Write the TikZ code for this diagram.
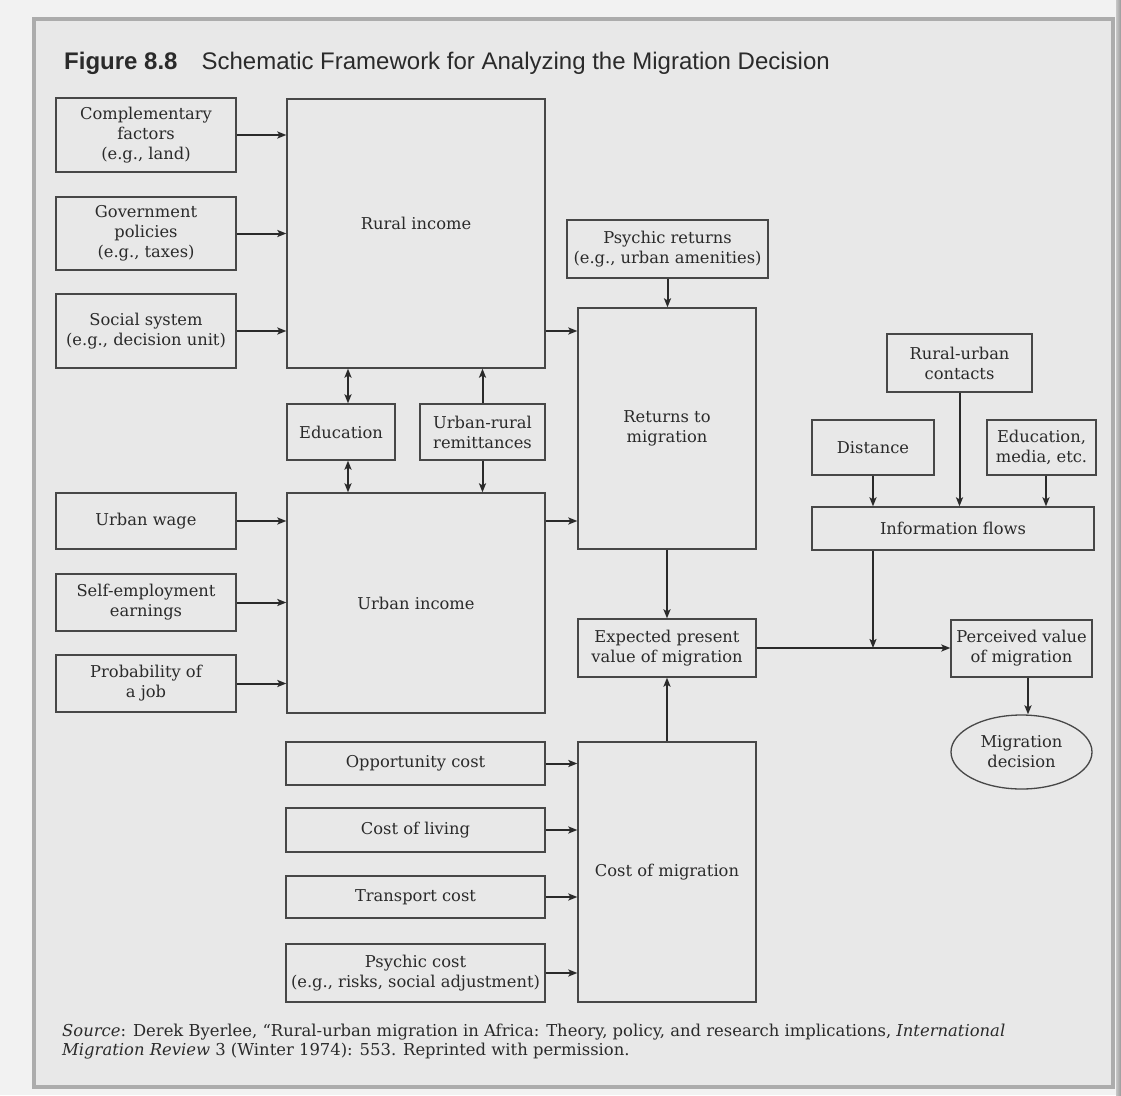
\documentclass[tikz,border=0pt]{standalone}
\usepackage{fontspec}
\setmainfont{DejaVu Serif}
\newfontfamily\headfont{Liberation Sans}
\usetikzlibrary{arrows.meta,shapes.geometric}
\definecolor{ink}{HTML}{2A2A2A}
\definecolor{rule}{HTML}{474747}
\definecolor{paper}{HTML}{E8E8E8}

\begin{document}
\begin{tikzpicture}
    [x=1pt, y=-1pt,
    box/.style={draw=rule, line width=1.3pt, rectangle, inner sep=0pt, align=center, text=ink,
        font=\fontsize{16.3}{20}\selectfont},
    arr/.style={draw=ink, line width=2pt, -{Stealth[length=9pt, width=7pt, inset=2pt]}},
    dblarr/.style={draw=ink, line width=2pt, {Stealth[length=9pt, width=7pt, inset=2pt]}-{Stealth[length=9pt, width=7pt, inset=2pt]}}]
        \useasboundingbox (0,0) rectangle (1121,1095);
        % Page and frame
        \fill[paper!55!white] (0,0) rectangle (1121,1095);
        \fill[paper] (34,19) rectangle (1113,1087);
        \draw[gray!65, line width=4.5pt] (34,19) rectangle (1113,1087);
        \shade[left color=gray!45, right color=gray!80] (1116,0) rectangle (1121,1095);

        \node[anchor=base west, inner sep=0pt, text=ink, font=\headfont\fontsize{24}{28}\selectfont] (title) at (64,69)
            {\textbf{Figure 8.8}\quad Schematic Framework for Analyzing the Migration Decision};

        % Rural side
        \node[box, minimum width=180pt, minimum height=74pt] (comp) at (146,135) {Complementary\\factors\\(e.g., land)};
        \node[box, minimum width=180pt, minimum height=73pt, below of = comp, node distance=98.5pt] (govt) {Government\\policies\\(e.g., taxes)};
        \node[box, minimum width=180pt, minimum height=74pt, below of = govt, node distance=97.5pt] (social) {Social system\\(e.g., decision unit)};
        \node[box, minimum width=258pt, minimum height=269pt, text depth=20pt] (rural) at (416,233.5) {Rural income};

        \node[box, minimum width=108pt, minimum height=56pt] (edu) at (341,432) {Education};
        \node[box, minimum width=125pt, minimum height=56pt] (remit) at (482.5,432) {Urban-rural\\remittances};

        % Urban side
        \node[box, minimum width=180pt, minimum height=56pt] (wage) at (146,521) {Urban wage};
        \node[box, minimum width=180pt, minimum height=57pt, below of = wage, node distance=81.5pt] (self) {Self-employment\\earnings};
        \node[box, minimum width=180pt, minimum height=57pt, below of = self, node distance=81pt] (prob) {Probability of\\a job};
        \node[box, minimum width=258pt, minimum height=220pt] (urban) at (416,603) {Urban income};

        % Returns and costs
        \node[box, minimum width=201pt, minimum height=58pt] (psyret) at (667.5,249) {Psychic returns\\(e.g., urban amenities)};
        \node[box, minimum width=178pt, minimum height=241pt] (returns) at (667,428.5) {Returns to\\migration};
        \node[box, minimum width=178pt, minimum height=58pt] (expected) at (667,648) {Expected present\\value of migration};
        \node[box, minimum width=178pt, minimum height=260pt] (cost) at (667,872) {Cost of migration};

        \node[box, minimum width=259pt, minimum height=43pt] (opp) at (415.5,763.5) {Opportunity cost};
        \node[box, minimum width=259pt, minimum height=44pt, below of = opp, node distance=66.5pt] (living) {Cost of living};
        \node[box, minimum width=259pt, minimum height=42pt, below of = living, node distance=67pt] (transport) {Transport cost};
        \node[box, minimum width=259pt, minimum height=58pt, below of = transport, node distance=76pt] (psycost) {Psychic cost\\(e.g., risks, social adjustment)};

        % Information
        \node[box, minimum width=145pt, minimum height=58pt] (contacts) at (959.5,363) {Rural-urban\\contacts};
        \node[box, minimum width=122pt, minimum height=55pt] (distance) at (873,447.5) {Distance};
        \node[box, minimum width=109pt, minimum height=55pt, right of = distance, node distance=168.5pt] (edumedia) {Education,\\media, etc.};
        \node[box, minimum width=282pt, minimum height=43pt] (info) at (953,528.5) {Information flows};

        % Decision
        \node[box, minimum width=141pt, minimum height=57pt] (perceived) at (1021.5,648.5) {Perceived value\\of migration};
        \node[box, ellipse, minimum width=141pt, minimum height=74pt, below of = perceived, node distance=103.5pt] (decision) {Migration\\decision};

        \node[anchor=base west, inner sep=0pt, align=left, text=ink, font=\fontsize{16.4}{19}\selectfont] (source) at (62,1055)
            {\textit{Source}: Derek Byerlee, “Rural-urban migration in Africa: Theory, policy, and research implications, \textit{International}\\
             \textit{Migration Review} 3 (Winter 1974): 553. Reprinted with permission.};

        % Arrows into incomes
        \draw[arr] (comp.east) -- (comp.east -| rural.west);
        \draw[arr] (govt.east) -- (govt.east -| rural.west);
        \draw[arr] (social.east) -- (social.east -| rural.west);
        \draw[arr] (wage.east) -- (wage.east -| urban.west);
        \draw[arr] (self.east) -- (self.east -| urban.west);
        \draw[arr] (prob.east) -- (prob.east -| urban.west);
        \draw[dblarr] ([xshift=7pt]edu.north) -- ([xshift=7pt]edu.north |- rural.south);
        \draw[dblarr] ([xshift=7pt]edu.south) -- ([xshift=7pt]edu.south |- urban.north);
        \draw[arr] (remit.north) -- (remit.north |- rural.south);
        \draw[arr] (remit.south) -- (remit.south |- urban.north);

        % Arrows to returns and costs
        \draw[arr] (social.east -| rural.east) -- (social.east -| returns.west);
        \draw[arr] (wage.east -| urban.east) -- (wage.east -| returns.west);
        \draw[arr] (psyret.south) -- (psyret.south |- returns.north);
        \draw[arr] (opp.east) -- (opp.east -| cost.west);
        \draw[arr] (living.east) -- (living.east -| cost.west);
        \draw[arr] (transport.east) -- (transport.east -| cost.west);
        \draw[arr] (psycost.east) -- (psycost.east -| cost.west);
        \draw[arr] (returns.south) -- (expected.north);
        \draw[arr] (cost.north) -- (expected.south);

        % Information and decision
        \draw[arr] (distance.south) -- (distance.south |- info.north);
        \draw[arr] (contacts.south) -- (contacts.south |- info.north);
        \draw[arr] ([xshift=4.5pt]edumedia.south) -- ([xshift=4.5pt]edumedia.south |- info.north);
        \draw[arr] (distance.south |- info.south) -- (distance.south |- expected.east);
        \draw[arr] (expected.east) -- (expected.east -| perceived.west);
        \draw[arr] ([xshift=6.5pt]perceived.south) -- ([xshift=6.5pt]perceived.south |- decision.north);
    \end{tikzpicture}
\end{document}
